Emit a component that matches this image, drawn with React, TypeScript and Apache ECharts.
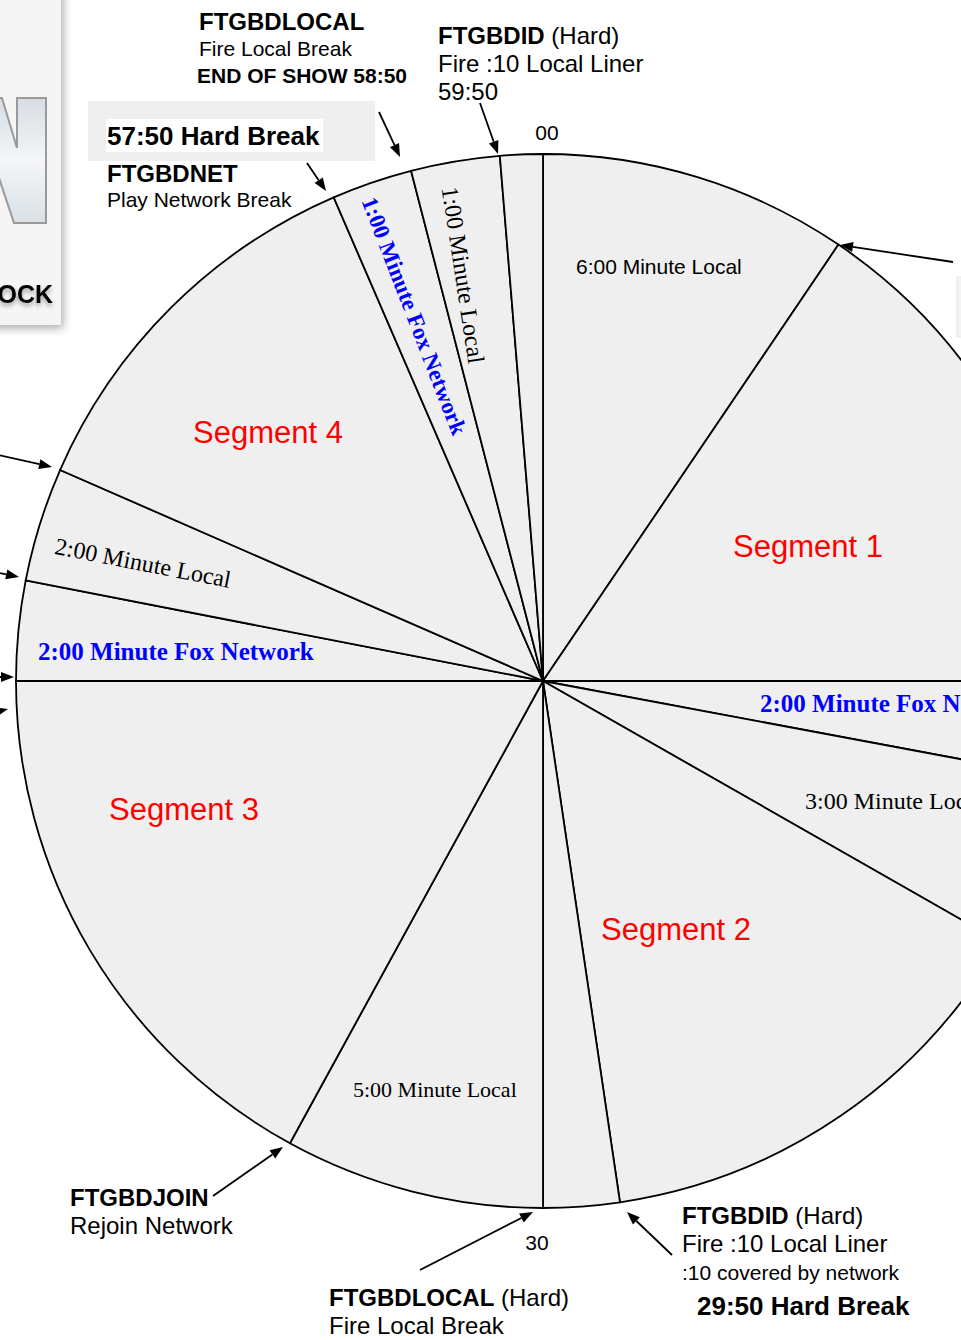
import React, { useEffect, useRef } from "react";
import * as echarts from "echarts";

// ---- Data: clock wedges (degrees of the 60-minute clock face, clockwise from 00) ----
const sliceNames = [
  "6:00 Minute Local",
  "Segment 1",
  "2:00 Minute Fox Network (right)",
  "3:00 Minute Local",
  "Segment 2",
  ":10 Local Liner 29:50",
  "5:00 Minute Local",
  "Segment 3",
  "2:00 Minute Fox Network (left)",
  "2:00 Minute Local",
  "Segment 4",
  "1:00 Minute Fox Network",
  "1:00 Minute Local",
  ":10 Local Liner 59:50",
];
const sliceDegrees = [34.1, 55.9, 10.6, 19.1, 51.9, 8.4, 28.7, 61.3, 11.0, 12.6, 43.0, 8.9, 9.8, 4.7];

const segmentLabels = ["Segment 1", "Segment 2", "Segment 3", "Segment 4"];
const clockTicks = ["00", "30"];

const SANS = "'Liberation Sans', Arial, sans-serif";
const SERIF = "'Liberation Serif', 'Times New Roman', serif";

function txt(text: string, x: number, y: number, o: any = {}) {
  return {
    type: "text",
    x,
    y,
    rotation: o.rotation || 0,
    z: 10,
    style: {
      text,
      x: 0,
      y: 0,
      fill: o.fill || "#000",
      fontSize: o.fontSize || 24,
      fontFamily: o.fontFamily || SANS,
      fontWeight: o.fontWeight || "normal",
      align: o.align || "left",
      verticalAlign: "middle",
      rich: o.rich,
      textShadowBlur: o.shadow ? 4 : 0,
      textShadowColor: o.shadow ? "rgba(0,0,0,0.35)" : "transparent",
      textShadowOffsetY: o.shadow ? 3 : 0,
    },
  };
}

function arrow(x1: number, y1: number, x2: number, y2: number) {
  const a = Math.atan2(y2 - y1, x2 - x1);
  const c = Math.cos(a);
  const s = Math.sin(a);
  const L = 13;
  const W = 5;
  const bx = x2 - L * c;
  const by = y2 - L * s;
  return [
    { type: "line", z: 10, shape: { x1, y1, x2: bx, y2: by }, style: { stroke: "#000", lineWidth: 1.8 } },
    {
      type: "polygon",
      z: 10,
      shape: { points: [[x2, y2], [bx - W * s, by + W * c], [bx + W * s, by - W * c]] },
      style: { fill: "#000" },
    },
  ];
}

export default function App() {
  const ref = useRef<HTMLDivElement>(null);
  useEffect(() => {
    if (!ref.current) return;
    const chart = echarts.init(ref.current, null, { renderer: "svg" });
    const bold = { fontWeight: "bold", fontSize: 24, fontFamily: SANS };
    const graphic: any[] = [
      // clipped logo panel at top-left
      {
        type: "rect",
        z: 1,
        shape: { x: -10, y: -10, width: 71, height: 335 },
        style: { fill: "#f5f5f5", shadowBlur: 10, shadowColor: "rgba(0,0,0,0.35)", shadowOffsetX: 2, shadowOffsetY: 3 },
      },
      {
        type: "polygon",
        z: 2,
        shape: {
          points: [[-60, 98], [2, 98], [17, 148], [17, 98], [46, 98], [46, 223], [14, 223], [-1, 178], [-1, 223], [-60, 223]],
        },
        style: {
          fill: new echarts.graphic.LinearGradient(0, 0, 0, 1, [
            { offset: 0, color: "#d6dde3" },
            { offset: 0.5, color: "#f4f6f8" },
            { offset: 1, color: "#d9e0e5" },
          ]),
          stroke: "#9a9a9a",
          lineWidth: 2,
        },
      },
      txt("OCK", 53, 294, { fontWeight: "bold", fontSize: 25, align: "right", shadow: true }),
      // small panel at right edge
      { type: "rect", z: 1, shape: { x: 957, y: 277, width: 10, height: 60 }, style: { fill: "#f4f4f4", stroke: "#e6e6e6" } },
      // 57:50 highlight boxes
      { type: "rect", z: 5, shape: { x: 88, y: 101, width: 287, height: 60 }, style: { fill: "#efefef" } },
      { type: "rect", z: 6, shape: { x: 106, y: 119, width: 217, height: 33 }, style: { fill: "#ffffff" } },

      // top annotations
      txt("FTGBDLOCAL", 199, 21, { fontWeight: "bold", fontSize: 24 }),
      txt("Fire Local Break", 199, 48, { fontSize: 21 }),
      txt("END OF SHOW 58:50", 197, 75, { fontWeight: "bold", fontSize: 21 }),
      txt("{b|FTGBDID} (Hard)", 438, 35, { fontSize: 24, rich: { b: bold } }),
      txt("Fire :10 Local Liner", 438, 63, { fontSize: 24 }),
      txt("59:50", 438, 91, { fontSize: 24 }),
      txt(clockTicks[0], 547, 132, { fontSize: 21, align: "center" }),
      txt("57:50 Hard Break", 107, 136, { fontWeight: "bold", fontSize: 26 }),
      txt("FTGBDNET", 107, 173, { fontWeight: "bold", fontSize: 24 }),
      txt("Play Network Break", 107, 199, { fontSize: 21 }),

      // wedge labels
      txt("6:00 Minute Local", 576, 266, { fontSize: 21 }),
      txt(segmentLabels[0], 733, 546, { fontSize: 31, fill: "#ff0000" }),
      txt(segmentLabels[1], 601, 929, { fontSize: 31, fill: "#ff0000" }),
      txt(segmentLabels[2], 109, 809, { fontSize: 31, fill: "#ff0000" }),
      txt(segmentLabels[3], 193, 432, { fontSize: 31, fill: "#ff0000" }),
      txt("2:00 Minute Fox Network", 38, 651, { fontSize: 25, fontWeight: "bold", fontFamily: SERIF, fill: "#0000ff" }),
      txt("2:00 Minute Fox Network", 760, 703, { fontSize: 25, fontWeight: "bold", fontFamily: SERIF, fill: "#0000ff" }),
      txt("3:00 Minute Local", 805, 801, { fontSize: 24, fontFamily: SERIF }),
      txt("5:00 Minute Local", 353, 1089, { fontSize: 22, fontFamily: SERIF }),
      txt("2:00 Minute Local", 143, 563, { fontSize: 24, fontFamily: SERIF, align: "center", rotation: -0.192 }),
      txt("1:00 Minute Local", 463, 275, { fontSize: 24, fontFamily: SERIF, align: "center", rotation: -1.419 }),
      txt("1:00 Minute Fox Network", 414, 316, {
        fontSize: 23,
        fontWeight: "bold",
        fontFamily: SERIF,
        fill: "#0000ff",
        align: "center",
        rotation: -1.201,
      }),

      // bottom annotations
      txt("FTGBDJOIN", 70, 1197, { fontWeight: "bold", fontSize: 24 }),
      txt("Rejoin Network", 70, 1225, { fontSize: 24 }),
      txt(clockTicks[1], 537, 1242, { fontSize: 21, align: "center" }),
      txt("{b|FTGBDLOCAL} (Hard)", 329, 1297, { fontSize: 24, rich: { b: bold } }),
      txt("Fire Local Break", 329, 1325, { fontSize: 24 }),
      txt("{b|FTGBDID} (Hard)", 682, 1215, { fontSize: 24, rich: { b: bold } }),
      txt("Fire :10 Local Liner", 682, 1243, { fontSize: 24 }),
      txt(":10 covered by network", 682, 1272, { fontSize: 21 }),
      txt("29:50 Hard Break", 697, 1306, { fontWeight: "bold", fontSize: 26 }),

      // arrows
      ...arrow(953, 262, 840, 245),
      ...arrow(307, 163, 326, 191),
      ...arrow(379, 112, 400, 157),
      ...arrow(480, 103, 498, 154),
      ...arrow(-2, 455, 52, 467),
      ...arrow(-6, 572, 19, 577),
      ...arrow(-6, 677, 14, 677),
      ...arrow(-20, 716, 8, 709),
      ...arrow(213, 1196, 283, 1147),
      ...arrow(420, 1270, 533, 1212),
      ...arrow(672, 1255, 627, 1212),
    ];

    chart.setOption({
      animation: false,
      backgroundColor: "#ffffff",
      series: [
        {
          type: "pie",
          center: [543, 681],
          radius: 527,
          startAngle: 90,
          clockwise: true,
          silent: true,
          z: 3,
          label: { show: false },
          labelLine: { show: false },
          emphasis: { disabled: true },
          itemStyle: { color: "#efefef", borderColor: "#000", borderWidth: 1.8 },
          data: sliceNames.map((n, i) => ({ name: n, value: sliceDegrees[i] })),
        },
      ],
      graphic,
    });
    return () => chart.dispose();
  }, []);
  return <div ref={ref} style={{ position: "fixed", left: 0, top: 0, width: 961, height: 1340 }} />;
}
